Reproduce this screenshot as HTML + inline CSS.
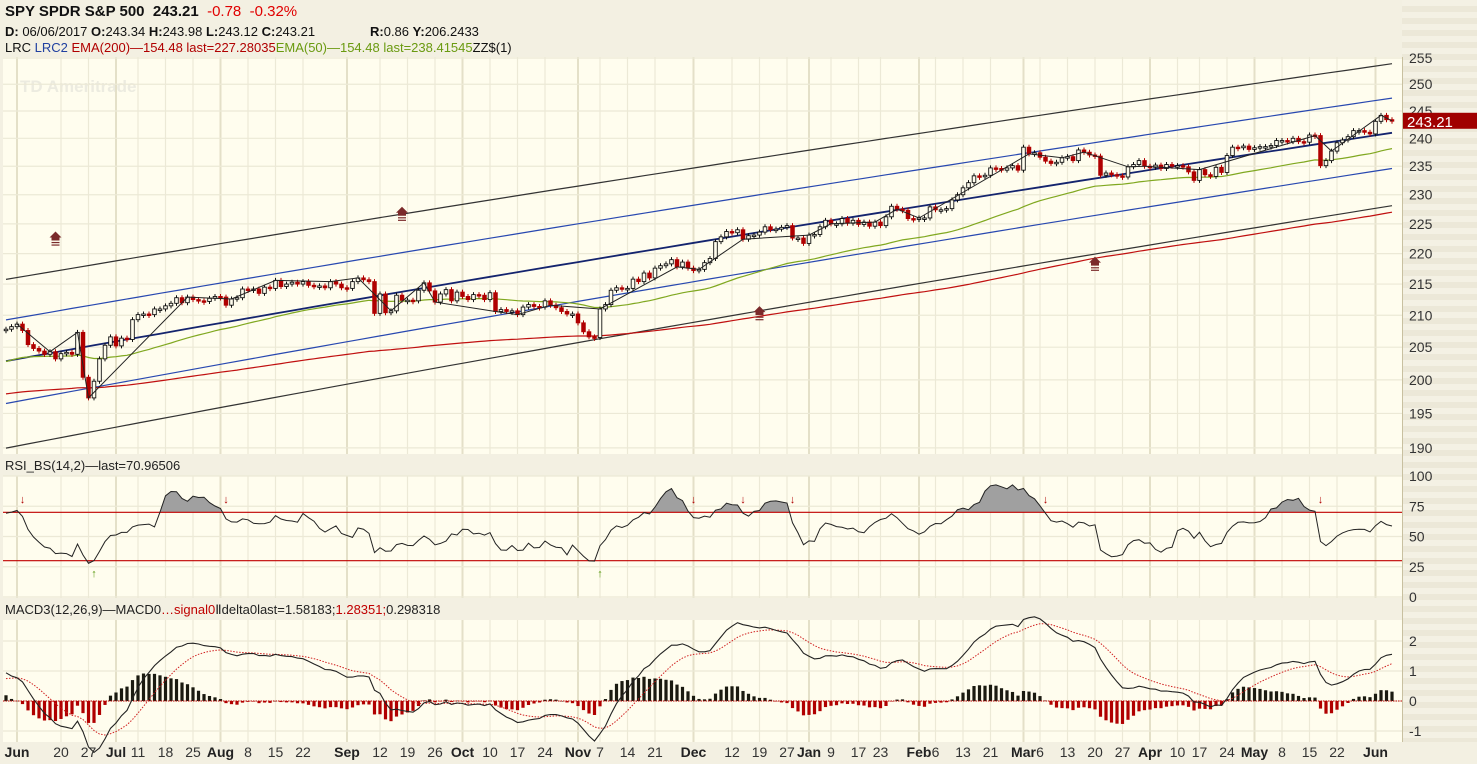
<!DOCTYPE html>
<html><head><meta charset="utf-8"><title>SPY chart</title>
<style>
body{margin:0;width:1477px;height:764px;overflow:hidden;background:#f3f0e2;font-family:"Liberation Sans",sans-serif;}
#hdr{position:absolute;left:0;top:0;width:1477px;height:57px;}
.t{position:absolute;white-space:pre;color:#111;}
svg{position:absolute;left:0;top:0;}
</style></head>
<body>
<div id="hdr">
 <div class="t" style="left:5px;top:3px;font-size:15px;font-weight:bold;">SPY SPDR S&amp;P 500&nbsp;&nbsp;243.21&nbsp;&nbsp;<span style="color:#e00000;font-weight:normal;">-0.78&nbsp;&nbsp;-0.32%</span></div>
 <div class="t" style="left:5px;top:24px;font-size:13px;"><b>D:</b> 06/06/2017 <b>O:</b>243.34 <b>H:</b>243.98 <b>L:</b>243.12 <b>C:</b>243.21</div>
 <div class="t" style="left:370px;top:24px;font-size:13px;"><b>R:</b>0.86 <b>Y:</b>206.2433</div>
 <div class="t" style="left:5px;top:40px;font-size:13px;">LRC <span style="color:#2040a0">LRC2</span> <span style="color:#b00000">EMA(200)</span><span style="color:#b00000">&#8212;154.48 last=227.28035</span><span style="color:#6a9a10">EMA(50)&#8212;154.48 last=238.41545</span>ZZ$(1)</div>
</div>
<svg id="chart" width="1477" height="764"></svg>
<script>
const closes=[
207.8,208.2,208.6,207.6,205.4, 204.8,204.4,203.9,204.3,203.2, 204.0,204.2,203.9,207.3,200.4,
197.3,199.8,203.2,205.3,206.6, 205.2,206.4,206.2,209.3, 210.1,210.2,210.1,211.0,211.0,
211.5,211.9,212.8,212.0,212.9, 212.5,212.3,212.2,212.7,213.0, 212.9,211.6,212.6,212.8,214.2,
214.1,214.2,213.5,214.5,214.3, 215.6,214.6,215.0,215.3,215.0, 215.4,214.8,214.6,214.7,214.4,
215.4,215.0,214.4,214.3,215.4, 216.0,215.7,215.4,210.3, 213.4,210.4,210.7,213.2,212.4,
212.4,212.3,214.0,215.2,213.9, 212.1,213.4,214.1,212.3,213.7, 213.0,212.5,213.3,213.2,212.5,
213.6,210.6,210.9,210.6,210.7, 210.1,211.3,211.7,211.4,211.3, 212.3,211.6,211.2,210.6,210.2,
210.2,208.8,207.4,206.6,206.5, 211.0,211.7,214.0,214.4,214.2, 214.3,215.8,215.4,216.8,216.0,
217.6,218.0,218.3,219.0, 217.8,218.6,217.6,217.2,217.4, 218.5,219.2,222.0,222.8,223.7,
223.5,224.0,222.4,223.0,223.1, 223.6,224.5,224.0,224.1,224.4, 224.7,222.6,222.6,221.7,
223.1,223.2,224.5,225.6, 225.0,225.0,225.9,225.1,225.6, 224.9,225.3,224.6,225.3,
224.7,226.2,228.0,227.5,227.3, 225.9,225.8,226.0,226.0,227.9, 227.4,227.4,227.6,229.1,230.0,
231.2,232.1,233.3,233.2,233.4, 234.7,234.6,234.3,234.7, 235.1,234.3,238.4,237.2,237.4,
236.6,235.9,235.5,235.7,236.5, 236.7,236.0,237.9,237.5,237.0, 236.8,233.4,233.8,233.5,233.3,
233.1,234.9,235.3,236.0,235.0, 234.8,235.2,234.6,235.3,235.0, 235.1,234.9,234.0,232.5,
234.4,233.5,233.2,234.8,233.9, 236.9,238.4,238.3,238.6,238.0, 238.3,238.5,238.5,238.7,239.6,
239.6,239.4,240.0,239.4,239.3, 240.6,240.5,235.1,236.0,237.7, 239.2,239.7,240.3,241.4,241.4,
241.1,240.8,243.1,244.2, 243.4,243.2];
const pivots=[2,8,13,15,33,41,49,59,64,70,76,78,89,93,99,108,122,126,134,146,150,158,162,166,186,192,196,204,207,217,238,241,250,252];
const dateIdx=[2,10,15,20,24,29,34,39,44,49,54,62,68,73,78,83,88,93,98,104,108,113,118,125,132,137,142,146,150,155,159,166,169,174,179,185,188,193,198,203,208,213,217,222,227,232,237,242,249];
const dateText=["Jun","20","27","Jul","11","18","25","Aug","8","15","22","Sep","12","19","26","Oct","10","17","24","Nov","7","14","21","Dec","12","19","27","Jan","9","17","23","Feb","6","13","21","Mar","6","13","20","27","Apr","10","17","24","May","8","15","22","Jun"];
const priceTicks=[190,195,200,205,210,215,220,225,230,235,240,245,250,255];
const rsiTicks=[0,25,50,75,100];
const macdTicks=[-1,0,1,2];
const signalIdx=[9,72,137,198];
const signalPrice=[222.7,226.9,210.5,218.5];
const channelWidths=[6.4,12.9];
const seeds={ema50:202.6,ema200:197.8,ema12:208.8,ema26:207.7,sig:0.7,gain:0.45,loss:0.2};

const NS="http://www.w3.org/2000/svg";
const svg=document.getElementById('chart');
function mk(tag,at,parent){const e=document.createElementNS(NS,tag);for(const k in at)e.setAttribute(k,at[k]);(parent||svg).appendChild(e);return e;}
const X=i=>6+i*5.5;
const L0=Math.log(255);
const yP=p=>58+(L0-Math.log(p))*1325;
const yR=v=>476+(100-v)*1.21;
const yM=v=>701-v*30;
const PL=3,PR=1402;
const N=closes.length;

let e;
e=mk('rect',{x:PL,y:57,width:PR-PL,height:397,fill:'#fffdee'});


e=mk('rect',{x:PL,y:476,width:PR-PL,height:122,fill:'#fffdee'});


e=mk('rect',{x:PL,y:620,width:PR-PL,height:122,fill:'#fffdee'});


const defs=mk('defs',{});
const pat=mk('pattern',{id:'stripes',width:10,height:12,patternUnits:'userSpaceOnUse'},defs);
mk('rect',{x:0,y:0,width:10,height:12,fill:'#f4f1e4'},pat);
mk('rect',{x:0,y:6,width:10,height:6,fill:'#ece8d8'},pat);
e=mk('rect',{x:PR,y:0,width:1477-PR,height:742,fill:'url(#stripes)'});


mk('line',{x1:PR+0.5,y1:57,x2:PR+0.5,y2:742,stroke:'#c8c0a0','stroke-width':1});
e=mk('text',{x:20,y:92,'font-size':17,'font-weight':'bold',fill:'#ecebe0'});e.textContent='TD  Ameritrade';



for(let k=0;k<dateIdx.length;k++){
  const isM=/^[A-Z]/.test(dateText[k]);
  for(const [a,b] of [[57,454],[476,598],[620,742]]){
    e=mk('line',{x1:X(dateIdx[k]),x2:X(dateIdx[k]),y1:a,y2:b,stroke:isM?'#e4e0c8':'#ece9d6','stroke-width':isM?2:1.2});
    
    
  }
  e=mk('text',{x:X(dateIdx[k]),y:757,'text-anchor':'middle','font-size':14,'font-weight':isM?'bold':'normal',fill:isM?'#222':'#333'});
  e.textContent=dateText[k];
  
  
}
for(const p of priceTicks){
  e=mk('line',{x1:PL,x2:PR,y1:yP(p),y2:yP(p),stroke:'#ece9d6','stroke-width':1.2});
  
  
  e=mk('text',{x:1409,y:yP(p)+5,'font-size':14,fill:'#333'});e.textContent=p;
  
  
}
for(const v of rsiTicks){
  e=mk('line',{x1:PL,x2:PR,y1:yR(v),y2:yR(v),stroke:'#ece9d6','stroke-width':1.2});
  
  
  e=mk('text',{x:1409,y:yR(v)+5,'font-size':14,fill:'#333'});e.textContent=v;
  
  
}
for(const v of macdTicks){
  e=mk('line',{x1:PL,x2:PR,y1:yM(v),y2:yM(v),stroke:'#ece9d6','stroke-width':1.2});
  
  
  e=mk('text',{x:1409,y:yM(v)+5,'font-size':14,fill:'#333'});e.textContent=v;
  
  
}

function poly(pts,stroke,w,dash,name){
  const el=mk('polyline',{points:pts.map(p=>p[0].toFixed(1)+','+p[1].toFixed(1)).join(' '),fill:'none',stroke:stroke,'stroke-width':w});
  if(dash)el.setAttribute('stroke-dasharray',dash);
  
  
  return el;
}
let sx=0,sy=0,sxx=0,sxy=0;
for(let i=0;i<N;i++){sx+=i;sy+=closes[i];sxx+=i*i;sxy+=i*closes[i];}
const slope=(N*sxy-sx*sy)/(N*sxx-sx*sx), icpt=(sy-slope*sx)/N;
function chan(off,col,w,name){const pts=[];for(let i=0;i<N;i+=4)pts.push([X(i),yP(icpt+slope*i+off)]);pts.push([X(N-1),yP(icpt+slope*(N-1)+off)]);poly(pts,col,w,null,name);}
chan(channelWidths[1],'#333',1.2,'lrc-upper-outer');
chan(-channelWidths[1],'#333',1.2,'lrc-lower-outer');
chan(channelWidths[0],'#2848b0',1.2,'lrc-upper-inner');
chan(-channelWidths[0],'#2848b0',1.2,'lrc-lower-inner');
chan(0,'#14246e',1.8,'lrc-center');
function ema(len,seed){const a=2/(len+1);const out=[];let v=seed;for(let i=0;i<N;i++){v=v+a*(closes[i]-v);out.push(v);}return out;}
const e200=ema(200,seeds.ema200), e50=ema(50,seeds.ema50);
poly(e200.map((v,i)=>[X(i),yP(v)]),'#c01010',1.2,null,'ema200-line');
poly(e50.map((v,i)=>[X(i),yP(v)]),'#80a820',1.2,null,'ema50-line');
for(let i=0;i<N;i++){
  const c=closes[i], o=i>0?closes[i-1]:c;
  const up=c>=o;
  const col=up?'#111':'#b00000';
  const top=Math.min(yP(c),yP(o)), bot=Math.max(yP(c),yP(o));
  const h=Math.max(bot-top,1.5);
  e=mk('line',{x1:X(i),x2:X(i),y1:top-2.5,y2:top+h+2.5,stroke:col,'stroke-width':1});
  
  
  e=mk('rect',{x:X(i)-1.8,y:top,width:3.6,height:h,fill:up?'#fffdee':col,stroke:col,'stroke-width':0.9});
  
  
}
poly(pivots.map(i=>[X(i),yP(closes[i])]),'#222',1,null,'zigzag-line');
for(let k=0;k<signalIdx.length;k++){
  const x=X(signalIdx[k]), y=yP(signalPrice[k]);
  const g=mk('g',{});
  
  
  mk('polygon',{points:`${x-6},${y} ${x},${y-6} ${x+6},${y} ${x+4},${y} ${x+4},${y+3} ${x-4},${y+3} ${x-4},${y}`,fill:'#7a2a2a'},g);
  mk('rect',{x:x-4,y:y+4.5,width:8,height:1.2,fill:'#7a2a2a'},g);
  mk('rect',{x:x-4,y:y+7,width:8,height:1.2,fill:'#7a2a2a'},g);
}
const yl=yP(closes[N-1]);
e=mk('rect',{x:PR+1,y:yl-8,width:75,height:16,fill:'#a00000'});


e=mk('text',{x:1407,y:yl+6,'font-size':15,fill:'#fff'});e.textContent='243.21';



// RSI (simple-average 14, smoothed 2)
const rsi=[];let sm=null;
for(let i=0;i<N;i++){
  let g=0,l=0,n=0;
  for(let j=Math.max(1,i-13);j<=i;j++){const d=closes[j]-closes[j-1];if(d>0)g+=d;else l-=d;n++;}
  const pad=14-n; g+=pad*seeds.gain; l+=pad*seeds.loss;
  const r=l===0?100:100-100/(1+g/l);
  sm=sm===null?r:sm+(2/3)*(r-sm);
  rsi.push(sm);
}
const rpts=rsi.map((v,i)=>[X(i),yR(v)]);
const cp1=mk('clipPath',{id:'above70'},defs);mk('rect',{x:0,y:0,width:1477,height:yR(70)},cp1);
const cp2=mk('clipPath',{id:'below30'},defs);mk('rect',{x:0,y:yR(30),width:1477,height:200},cp2);
const ptsStr=a=>a.map(p=>p[0].toFixed(1)+','+p[1].toFixed(1)).join(' ');
e=mk('polygon',{points:ptsStr(rpts.concat([[X(N-1),yR(70)],[X(0),yR(70)]])),fill:'#a0a0a0','clip-path':'url(#above70)'});


e=mk('polygon',{points:ptsStr(rpts.concat([[X(N-1),yR(30)],[X(0),yR(30)]])),fill:'#a0a0a0','clip-path':'url(#below30)'});


for(const v of [70,30]){
  e=mk('line',{x1:PL,x2:PR,y1:yR(v),y2:yR(v),stroke:'#c00000','stroke-width':1.2});
  
  
}
poly(rpts,'#222',1,null,'rsi-line');
for(let i=1;i<N;i++){
  if(rsi[i-1]>=70&&rsi[i]<70){e=mk('text',{x:X(i),y:503,'text-anchor':'middle','font-size':11,fill:'#b00000'});e.textContent='↓';
    
    }
  if(rsi[i-1]<=30&&rsi[i]>30){e=mk('text',{x:X(i),y:577,'text-anchor':'middle','font-size':11,fill:'#5a9a10'});e.textContent='↑';
    
    }
}
e=mk('text',{x:5,y:470,'font-size':13,fill:'#222'});e.textContent='RSI_BS(14,2)\u2014last=70.96506';



const m12=[],m26=[];let a12=seeds.ema12,a26=seeds.ema26;
for(let i=0;i<N;i++){a12+=2/13*(closes[i]-a12);a26+=2/27*(closes[i]-a26);m12.push(a12);m26.push(a26);}
const macd=m12.map((v,i)=>v-m26[i]);
const sig=[];let s=seeds.sig;for(let i=0;i<N;i++){s+=0.2*(macd[i]-s);sig.push(s);}
for(let i=0;i<N;i++){
  const d=macd[i]-sig[i];
  e=mk('rect',{x:X(i)-1.6,y:Math.min(yM(d),yM(0)),width:3.2,height:Math.max(Math.abs(yM(d)-yM(0)),0.5),fill:d>=0?'#1a1a10':'#b00000'});
  
  
}
e=mk('line',{x1:PL,x2:PR,y1:yM(0),y2:yM(0),stroke:'#c00000','stroke-width':1,'stroke-dasharray':'1.5,1'});


poly(sig.map((v,i)=>[X(i),yM(v)]),'#d02020',1,'1.5,1.5','macd-signal-line');
poly(macd.map((v,i)=>[X(i),yM(v)]),'#222',1.1,null,'macd-line');
const tg=mk('text',{x:5,y:614,'font-size':13,fill:'#222'});


tg.innerHTML='MACD3(12,26,9)\u2014MACD0<tspan fill="#c00000">\u2026signal0</tspan>\u2161delta0last=1.58183;<tspan fill="#c00000">1.28351;</tspan>0.298318';
</script>
</body></html>
